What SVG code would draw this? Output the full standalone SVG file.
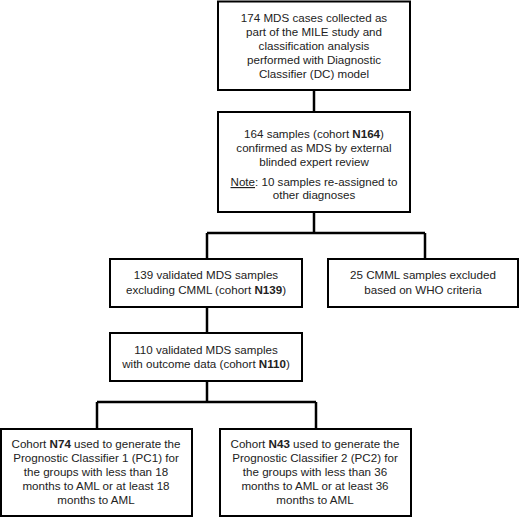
<svg xmlns="http://www.w3.org/2000/svg" width="520" height="517" viewBox="0 0 520 517">
<style>
.box{fill:#fff;stroke:#000;stroke-width:2}
.con{fill:none;stroke:#000;stroke-width:2.5}
text{font-family:"Liberation Sans",Arial,sans-serif;font-size:11.6px;fill:#222;text-anchor:middle}
.b{font-weight:bold}
</style>
<rect width="520" height="517" fill="#fff"/>
<g id="connectors">
<path class="con" d="M314 90V112"/>
<path class="con" d="M314 212V233M207 233H425M207 233V259M425 233V259"/>
<path class="con" d="M207 307V333"/>
<path class="con" d="M207 381V402M97 402H316M97 402V429M316 402V429"/>
</g>
<g id="n1">
<rect class="box" x="218" y="1.5" width="192" height="88.5"/>
<text x="314" y="22">174 MDS cases collected as</text>
<text x="314" y="36">part of the MILE study and</text>
<text x="314" y="50">classification analysis</text>
<text x="314" y="64">performed with Diagnostic</text>
<text x="314" y="78">Classifier (DC) model</text>
</g>
<g id="n2">
<rect class="box" x="218" y="112" width="192" height="100"/>
<text x="314" y="138">164 samples (cohort <tspan class="b">N164</tspan>)</text>
<text x="314" y="152">confirmed as MDS by external</text>
<text x="314" y="166">blinded expert review</text>
<text x="314" y="186"><tspan text-decoration="underline">Note</tspan>: 10 samples re-assigned to</text>
<text x="314" y="199">other diagnoses</text>
</g>
<g id="n3">
<rect class="box" x="110" y="259" width="192" height="48"/>
<text x="206" y="279">139 validated MDS samples</text>
<text x="206" y="294">excluding CMML (cohort <tspan class="b">N139</tspan>)</text>
</g>
<g id="n4">
<rect class="box" x="328" y="259" width="190" height="48"/>
<text x="423" y="279">25 CMML samples excluded</text>
<text x="423" y="294">based on WHO criteria</text>
</g>
<g id="n5">
<rect class="box" x="110" y="333" width="192" height="48"/>
<text x="206" y="354">110 validated MDS samples</text>
<text x="206" y="368">with outcome data (cohort <tspan class="b">N110</tspan>)</text>
</g>
<g id="n6">
<rect class="box" x="1" y="429" width="191" height="87"/>
<text x="96" y="448">Cohort <tspan class="b">N74</tspan> used to generate the</text>
<text x="96" y="462">Prognostic Classifier 1 (PC1) for</text>
<text x="96" y="476">the groups with less than 18</text>
<text x="96" y="490">months to AML or at least 18</text>
<text x="96" y="504">months to AML</text>
</g>
<g id="n7">
<rect class="box" x="220" y="429" width="191" height="87"/>
<text x="315" y="448">Cohort <tspan class="b">N43</tspan> used to generate the</text>
<text x="315" y="462">Prognostic Classifier 2 (PC2) for</text>
<text x="315" y="476">the groups with less than 36</text>
<text x="315" y="490">months to AML or at least 36</text>
<text x="315" y="504">months to AML</text>
</g>
</svg>
